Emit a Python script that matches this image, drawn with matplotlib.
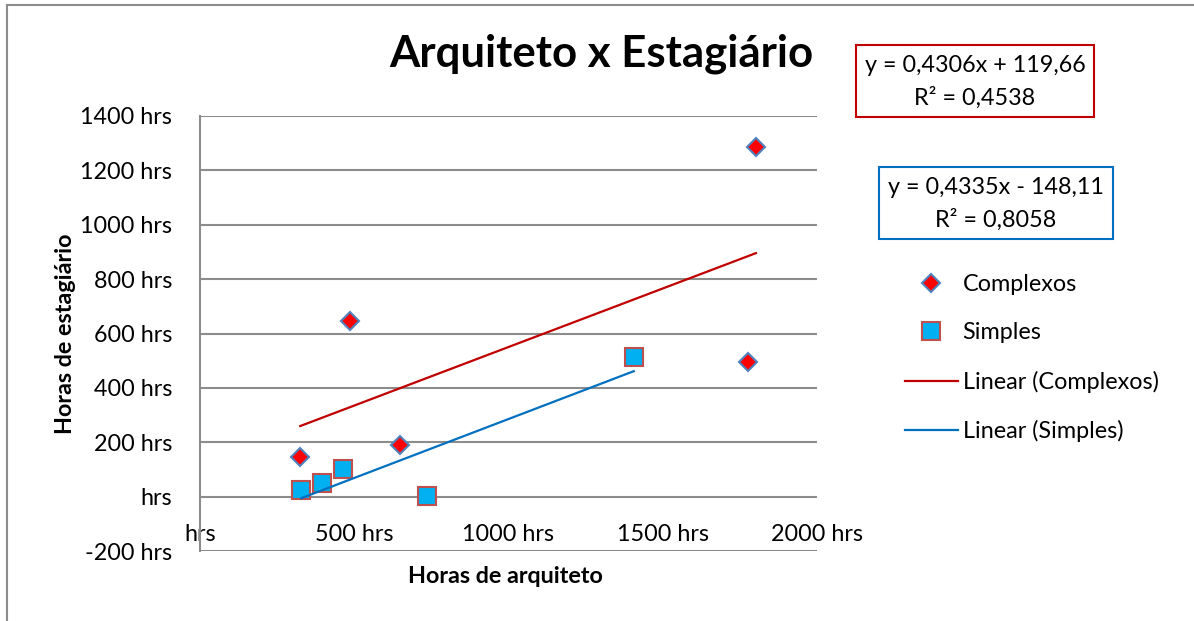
import numpy as np
from matplotlib import pyplot as plt
from matplotlib.lines import Line2D
from matplotlib.patches import Rectangle

plt.rcParams['font.family'] = ['Lato', 'DejaVu Sans']

# horas de arquiteto x horas de estagiario
complexos_x = [325, 487, 649, 1802, 1776]
complexos_y = [147, 645, 190, 1286, 494]
simples_x = [328, 396, 464, 737, 1406]
simples_y = [26, 51, 103, 4, 513]

# linhas de tendencia (coeficientes do Excel)
trend_complexos = [0.4306, 119.66]
trend_simples = [0.4335, -148.11]
r2_complexos = 0.4538
r2_simples = 0.8058

y_ticks = [-200, 0, 200, 400, 600, 800, 1000, 1200, 1400]
y_labels = ['-200 hrs', 'hrs', '200 hrs', '400 hrs', '600 hrs', '800 hrs',
            '1000 hrs', '1200 hrs', '1400 hrs']
x_ticks = [0, 500, 1000, 1500, 2000]
x_labels = ['hrs', '500 hrs', '1000 hrs', '1500 hrs', '2000 hrs']

W, H = 1194, 621
fs = 16.8
fig = plt.figure(figsize=(W / 100, H / 100), dpi=100)
ax = fig.add_axes([200 / W, 70 / H, 617 / W, 435 / H])

grid_c = '#8c8c8c'
for yt in y_ticks:
    ax.axhline(yt, color=grid_c, lw=1.5, zorder=1)

ax.plot(complexos_x, complexos_y, 'D', ms=9.5, mfc='#ff0000', mec='#4f81bd',
        mew=1.5, ls='none', zorder=3, label='Complexos')
ax.plot(simples_x, simples_y, 's', ms=12.5, mfc='#00b0f0', mec='#c0504d',
        mew=1.5, ls='none', zorder=3, label='Simples')

xc = np.array([min(complexos_x), max(complexos_x)])
ax.plot(xc, trend_complexos[0] * xc + trend_complexos[1], color='#c00000',
        lw=1.6, zorder=4, label='Linear (Complexos)')
xs = np.array([min(simples_x), max(simples_x)])
ax.plot(xs, trend_simples[0] * xs + trend_simples[1], color='#0070c0',
        lw=1.6, zorder=4, label='Linear (Simples)')

ax.set_xlim(0, 2000)
ax.set_ylim(-200, 1400)
for s in ['top', 'right', 'bottom']:
    ax.spines[s].set_visible(False)
ax.spines['left'].set_color(grid_c)
ax.spines['left'].set_linewidth(1.5)
ax.spines['bottom'].set_position(('data', 0))

ax.set_yticks(y_ticks)
ax.set_yticklabels(y_labels)
ax.set_xticks(x_ticks)
ax.set_xticklabels(x_labels)
ax.tick_params(axis='y', length=0, pad=20, labelsize=fs)
ax.tick_params(axis='x', length=0, pad=20, labelsize=fs)

fig.text(72 / W, 1 - 334 / H, 'Horas de estagiário', rotation=90,
         rotation_mode='anchor', ha='center', va='baseline',
         fontsize=fs, fontweight='bold')
fig.text(505 / W, 1 - 583 / H, 'Horas de arquiteto', ha='center',
         va='baseline', fontsize=fs, fontweight='bold')
fig.text(601 / W, 1 - 67 / H, 'Arquiteto x Estagiário', ha='center',
         va='baseline', fontsize=31.5, fontweight='bold')

# caixas com as equacoes
def eq_box(x0, y0, x1, y1, color, coefs, r2):
    fig.add_artist(Rectangle((x0 / W, 1 - y1 / H), (x1 - x0) / W, (y1 - y0) / H,
                             transform=fig.transFigure, fill=False,
                             ec=color, lw=1.5))
    a, b = coefs
    sign = '+' if b >= 0 else '-'
    eq = f'y = {a:.4f}x {sign} {abs(b):.2f}'.replace('.', ',')
    r = f'R² = {r2:.4f}'.replace('.', ',')
    cx = (x0 + x1) / 2 / W
    cy = (y0 + y1) / 2
    fig.text(cx, 1 - (cy - 15) / H, eq, ha='center', va='center', fontsize=fs)
    fig.text(cx, 1 - (cy + 17) / H, r, ha='center', va='center', fontsize=fs)

eq_box(856, 45, 1094, 117, '#c00000', trend_complexos, r2_complexos)
eq_box(879, 167, 1113, 239, '#0070c0', trend_simples, r2_simples)

leg = fig.legend(loc='upper left', bbox_to_anchor=(905 / W, 1 - 274 / H),
                 frameon=False, fontsize=fs, handlelength=2.25,
                 handletextpad=0.22, labelspacing=1.17, borderpad=0,
                 borderaxespad=0)

# moldura do grafico
frame = dict(color='#8c8c8c', lw=1.5, transform=fig.transFigure)
fig.add_artist(Line2D([7 / W, 7 / W], [0, 1 - 5 / H], **frame))
fig.add_artist(Line2D([7 / W, 1], [1 - 5 / H, 1 - 5 / H], **frame))

fig.savefig('out.png', dpi=100)
